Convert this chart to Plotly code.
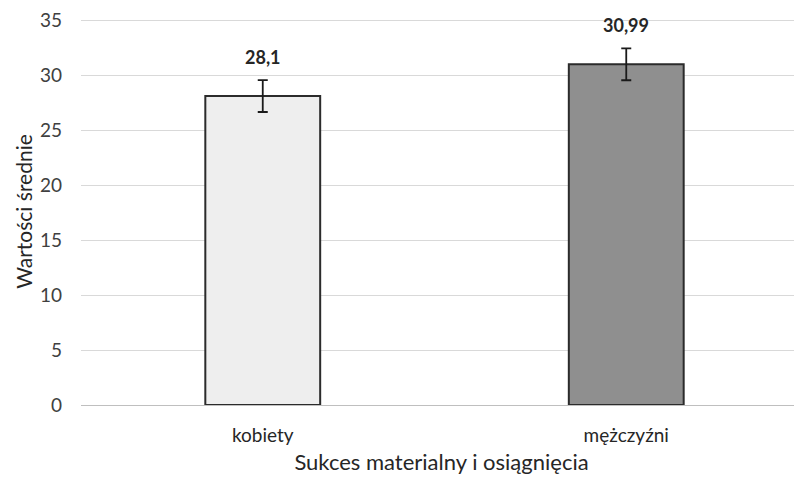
import plotly.graph_objects as go

categories = ["kobiety", "mężczyźni"]
values = [28.1, 30.99]
errors = [1.45, 1.45]
labels = ["28,1", "30,99"]
fill_colors = ["#eeeeee", "#8f8f8f"]
y_ticks = [0, 5, 10, 15, 20, 25, 30, 35]

FONT = "Lato"

fig = go.Figure()
fig.add_trace(go.Bar(
    x=categories, y=values,
    width=0.316,
    marker=dict(color=fill_colors, line=dict(color="#2b2b2b", width=2)),
    error_y=dict(type="data", array=errors, visible=True,
                 color="#1a1a1a", thickness=1.8, width=5),
    showlegend=False,
))

for c, v, t in zip(categories, values, labels):
    fig.add_annotation(x=c, y=v, text=f"<b>{t}</b>", showarrow=False,
                       yanchor="middle", yshift=39,
                       font=dict(family=FONT, size=18, color="#262626"))

fig.update_layout(
    width=794, height=471,
    margin=dict(l=73, r=0, t=10, b=74),
    paper_bgcolor="white", plot_bgcolor="white",
    font=dict(family=FONT, size=16, color="#404040"),
    xaxis=dict(
        range=[-0.5, 1.4835],
        showgrid=False, showline=False, zeroline=False,
        ticks="", ticklabelstandoff=17,
        tickfont=dict(family=FONT, size=19, color="#262626"),
        title=dict(text="Sukces materialny i osiągnięcia",
                   font=dict(family=FONT, size=22, color="#262626"),
                   standoff=9),
    ),
    yaxis=dict(
        range=[0, 35.2], tickvals=y_ticks,
        showgrid=True, gridcolor="#d9d9d9", gridwidth=1.3,
        zeroline=True, zerolinecolor="#bfbfbf", zerolinewidth=1.3,
        showline=False, ticks="", ticklabelstandoff=18,
        ticklabeloverflow="allow",
        tickfont=dict(family=FONT, size=19, color="#404040"),
        title=dict(text="Wartości średnie",
                   font=dict(family=FONT, size=21, color="#262626"),
                   standoff=1),
    ),
)

fig.write_html("out.html")
